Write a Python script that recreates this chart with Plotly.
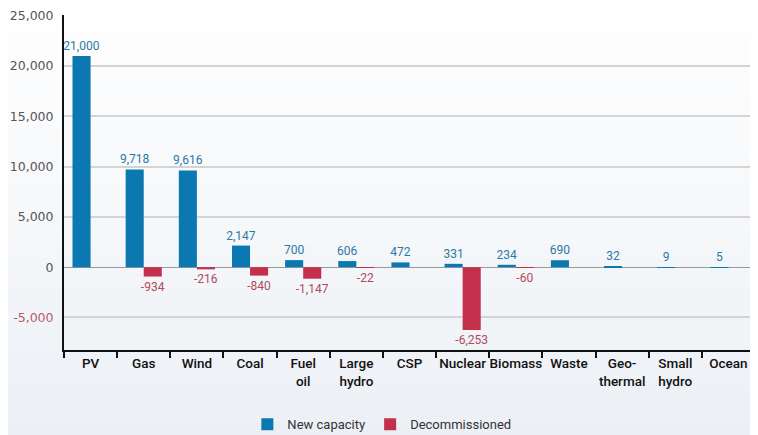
import plotly.graph_objects as go

categories = ["PV", "Gas", "Wind", "Coal", "Fuel<br>oil", "Large<br>hydro", "CSP",
              "Nuclear", "Biomass", "Waste", "Geo-<br>thermal", "Small<br>hydro", "Ocean"]
new_capacity = [21000, 9718, 9616, 2147, 700, 606, 472, 331, 234, 690, 32, 9, 5]
decommissioned = [None, -934, -216, -840, -1147, -22, None, -6253, -60, None, None, None, None]

ytick_vals = [-5000, 0, 5000, 10000, 15000, 20000, 25000]
ytick_text = ['<span style="color:#b8596b">-5,000</span>', "0", "5,000", "10,000",
              "15,000", "20,000", "25,000"]

BLUE = "#0b78b2"
RED = "#c3304b"
FONT = "Roboto, sans-serif"
FONT_Y = "DejaVu Sans, sans-serif"

fig = go.Figure()
fig.add_trace(go.Bar(
    x=categories, y=new_capacity, name="New capacity",
    marker=dict(color=BLUE, line=dict(width=0)),
    texttemplate="%{y:,}", textposition="outside", constraintext="none",
    textfont=dict(color="#2b7aa6", size=12, family=FONT),
    cliponaxis=False,
))
fig.add_trace(go.Bar(
    x=categories, y=decommissioned, name="Decommissioned",
    marker=dict(color=RED, line=dict(width=0)),
    texttemplate="%{y:,}", textposition="outside", constraintext="none",
    textfont=dict(color="#b04a5c", size=12, family=FONT),
    cliponaxis=False,
))

# background gradient
shapes = []
n = 30
y_lo, y_hi = -0.3, 1.03
for i in range(n):
    t = i / (n - 1)
    r = int(255 - (255 - 236) * (1 - t))
    g = int(255 - (255 - 240) * (1 - t))
    b = int(255 - (255 - 245) * (1 - t))
    shapes.append(dict(type="rect", xref="paper", yref="paper",
                       x0=-0.1, x1=1.01,
                       y0=y_lo + (y_hi - y_lo) * i / n,
                       y1=y_lo + (y_hi - y_lo) * (i + 1) / n,
                       fillcolor=f"rgb({r},{g},{b})", line=dict(width=0),
                       layer="below"))

fig.update_layout(
    width=750, height=427,
    margin=dict(l=56, r=3, t=7, b=85, autoexpand=False),
    paper_bgcolor="white",
    plot_bgcolor="rgba(0,0,0,0)",
    barmode="group",
    bargap=0.32,
    bargroupgap=0,
    shapes=shapes,
    font=dict(family=FONT, color="#333"),
    legend=dict(orientation="h",
                x=0.46, xanchor="center", y=-0.222, yanchor="middle",
                bgcolor="rgba(0,0,0,0)",
                font=dict(size=13, color="#333", family=FONT),
                itemwidth=30, traceorder="normal"),
    xaxis=dict(
        type="category", automargin=False, tickangle=0,
        showline=True, linecolor="#111", linewidth=2,
        ticks="outside", tickson="boundaries", ticklen=6, tickwidth=2,
        tickcolor="#111",
        tickfont=dict(size=13.5, color="#111", family=FONT, weight=500),
        showgrid=False,
    ),
    yaxis=dict(
        range=[-8240, 25080], automargin=False,
        tickvals=ytick_vals, ticktext=ytick_text,
        tickfont=dict(size=12.5, color="#555", family=FONT_Y),
        showline=True, linecolor="#111", linewidth=2,
        showgrid=True, gridcolor="#d4d4d4", gridwidth=1.5,
        zeroline=True, zerolinecolor="#9a9a9a", zerolinewidth=1,
        ticks="", ticklabelstandoff=6,
    ),
)

fig.write_html("out.html")
